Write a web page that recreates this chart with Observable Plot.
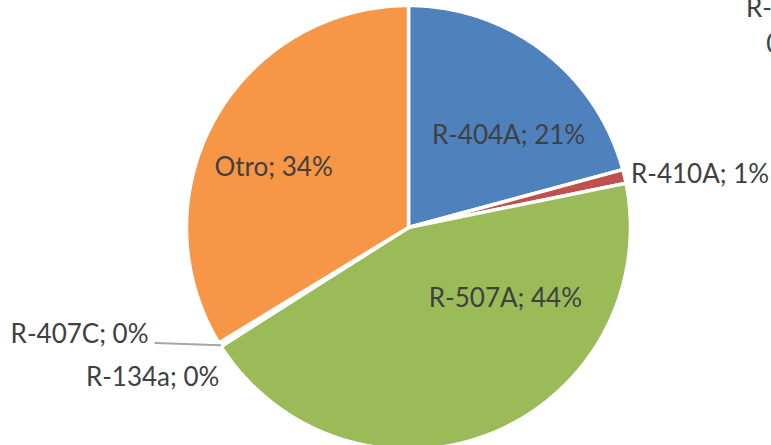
<!DOCTYPE html>
<html><head><meta charset="utf-8">
<script src="https://cdn.jsdelivr.net/npm/d3@7"></script>
<script src="https://cdn.jsdelivr.net/npm/@observablehq/plot@0.6"></script>
<style>body{margin:0;background:#fff;overflow:hidden}</style>
</head><body><div id="chart"></div>
<script>
// ---- data ----
const categories = ["R-404A", "R-410A", "R-507A", "R-407C", "R-134a", "Otro"];
const values     = [20.8, 1.0, 44.2, 0.2, 0.1, 33.7];
const percentLabels = ["21%", "1%", "44%", "0%", "0%", "34%"];
const colors = ["#4F81BD", "#C0504D", "#9BBB59", "#8064A2", "#4BACC6", "#F79646"];

// ---- label layout (polar: angle in degrees clockwise from 12 o'clock, radius as fraction of pie radius) ----
const labelAngle  = [47.4, null, 126.2, null, null, 294];
const labelRadius = [0.612, 1.03, 0.541, null, null, 0.665];

const W = 771, H = 445, cx = 408, cy = 227, R = 222;

const arcs = d3.pie().sort(null).value(d => d)(values);
const deg = Math.PI / 180;
const pol = (a, r) => ({x: r * Math.sin(a), y: r * Math.cos(a)});

// slice polygons
const pts = [];
arcs.forEach((a, i) => {
  const c = categories[i];
  pts.push({cat: c, ...pol(0, 0)});
  const n = Math.max(2, Math.ceil((a.endAngle - a.startAngle) / (0.5 * deg)));
  for (let k = 0; k <= n; k++) {
    const t = a.startAngle + (a.endAngle - a.startAngle) * k / n;
    pts.push({cat: c, ...pol(t, 1)});
  }
  pts.push({cat: c, ...pol(0, 0)});
});

const mid = i => (arcs[i].startAngle + arcs[i].endAngle) / 2;
const lbl = i => categories[i] + "; " + percentLabels[i];

// inside labels
const inside = [0, 2, 5].map(i => ({t: lbl(i), ...pol(labelAngle[i] * deg, labelRadius[i])}));
// R-410A outside, right of slice
const right = [{t: lbl(1), ...pol(mid(1), labelRadius[1])}];

// R-407C with leader line, R-134a below
const e407 = pol(mid(3), 1.0);
const e134 = pol(mid(4), 1.0);
const leader = [{x: e407.x, y: e407.y}, {x: -1.14, y: e407.y + 0.01}];
const leftEnd = [{t: lbl(3), x: -1.171, y: e407.y + 0.05}];
const below = [{t: lbl(4), x: e134.x - 0.3, y: e134.y - 0.155}];

const font = "Lato, 'Liberation Sans', sans-serif";
const txt = {x: "x", y: "y", text: "t", fill: "#404040", fontSize: 26};

const chart = Plot.plot({
  width: W, height: H,
  margin: 0,
  x: {type: "linear", domain: [-1, 1], range: [cx - R, cx + R], axis: null},
  y: {type: "linear", domain: [-1, 1], range: [cy + R, cy - R], axis: null},
  color: {domain: categories, range: colors},
  style: {fontFamily: font, background: "#fff", overflow: "hidden"},
  marks: [
    Plot.line(pts, {x: "x", y: "y", z: "cat", fill: "cat", stroke: "white", strokeWidth: 3.5, curve: "linear", strokeLinejoin: "round"}),
    Plot.line(leader, {x: "x", y: "y", stroke: "#A6A6A6", strokeWidth: 2}),
    Plot.text(inside, {...txt, textAnchor: "middle"}),
    Plot.text(right, {...txt, textAnchor: "start"}),
    Plot.text(leftEnd, {...txt, textAnchor: "end"}),
    Plot.text(below, {...txt, textAnchor: "middle"}),
    // neighbouring labels cut by the picture's right edge
    Plot.text([{t: "R-404A;", x: 1.52, y: 0.985}, {t: "0%", x: 1.612, y: 0.824}], {...txt, textAnchor: "start"})
  ]
});
document.getElementById("chart").appendChild(chart);
</script>
</body></html>
